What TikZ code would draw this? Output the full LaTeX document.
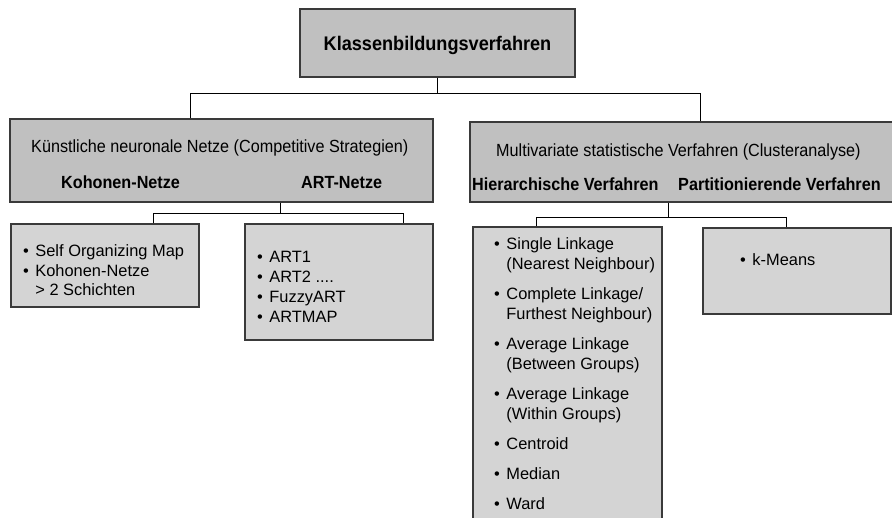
\documentclass[tikz,border=0pt]{standalone}
\usepackage{fontspec}
\setmainfont{Liberation Sans}
\newfontfamily\hdfont[FakeStretch=0.92]{Liberation Sans}
\definecolor{hdfill}{HTML}{C0C0C0}
\definecolor{lsfill}{HTML}{D4D4D4}
\definecolor{bordercol}{HTML}{3A3A3A}
\tikzset{
  boxbase/.style={draw=bordercol, line width=1.2pt, rectangle, inner sep=0pt},
  hdbox/.style={boxbase, fill=hdfill},
  lsbox/.style={boxbase, fill=lsfill},
  link/.style={draw=black, line width=0.9pt},
  hdtext/.style={inner sep=0pt, anchor=base west, font=\hdfont\fontsize{17.6}{20}\selectfont},
  hdbold/.style={inner sep=0pt, anchor=base west, font=\hdfont\bfseries\fontsize{17.6}{20}\selectfont},
  listtext/.style={inner sep=0pt, anchor=base west, align=left, font=\fontsize{16.4}{20}\selectfont}
}
\newcommand{\bl}{\textbullet}
\begin{document}
\begin{tikzpicture}[x=1pt,y=-1pt]
\useasboundingbox (0,0) rectangle (892,518);

% boxes
\node[hdbox, minimum width=275pt, minimum height=68pt] (top) at (437.5,43) {};
\node[hdbox, minimum width=423pt, minimum height=83pt] (lbox) at (221.5,160.5) {};
\node[hdbox, minimum width=430pt, minimum height=80pt] (rbox) at (685,162) {};
\node[lsbox, minimum width=188pt, minimum height=83pt] (self) at (105,265.5) {};
\node[lsbox, minimum width=188pt, minimum height=116pt] (art) at (339,282) {};
\node[lsbox, minimum width=189pt, minimum height=303pt] (hier) at (567.5,378.5) {};
\node[lsbox, minimum width=188pt, minimum height=86pt] (kmeans) at (797,271) {};

% texts
\node[inner sep=0pt, anchor=base, font=\hdfont\bfseries\fontsize{19.7}{22}\selectfont] (ttl) at (437.5,51) {Klassenbildungsverfahren};
\node[hdtext] (lt) at (31,153) {Künstliche neuronale Netze (Competitive Strategien)};
\node[hdbold] (lk) at (61,189) {Kohonen-Netze};
\node[hdbold] (la) at (301,189) {ART-Netze};
\node[hdtext] (rt) at (496,157) {Multivariate statistische Verfahren (Clusteranalyse)};
\node[hdbold] (rh) at (472,191) {Hierarchische Verfahren};
\node[hdbold] (rp) at (678,191) {Partitionierende Verfahren};

\node[listtext] (selft) at (23,257) {\begin{tabular}[t]{@{}l@{\hspace{6.5pt}}l@{}}
\bl & Self Organizing Map\\[-0.8pt]
\bl & Kohonen-Netze\\[-0.8pt]
 & > 2 Schichten
\end{tabular}};
\node[listtext] (artt) at (257,263) {\begin{tabular}[t]{@{}l@{\hspace{6.5pt}}l@{}}
\bl & ART1\\
\bl & ART2 ....\\
\bl & FuzzyART\\
\bl & ARTMAP
\end{tabular}};
\node[listtext] (hiert) at (494,250) {\begin{tabular}[t]{@{}l@{\hspace{6.5pt}}l@{}}
\bl & Single Linkage\\
 & (Nearest Neighbour)\\[10pt]
\bl & Complete Linkage/\\
 & Furthest Neighbour)\\[10pt]
\bl & Average Linkage\\
 & (Between Groups)\\[10pt]
\bl & Average Linkage\\
 & (Within Groups)\\[10pt]
\bl & Centroid\\[10pt]
\bl & Median\\[10pt]
\bl & Ward
\end{tabular}};
\node[listtext] (kmt) at (740,266) {\begin{tabular}[t]{@{}l@{\hspace{6.5pt}}l@{}}
\bl & k-Means
\end{tabular}};

% connectors
\coordinate (j1) at (190,93);
\coordinate (j2) at (700,93);
\draw[link] (top.south) -- (top.south |- j1);
\draw[link] (lbox.north -| j1) -- (j1) -- (j2) -- (rbox.north -| j2);

\coordinate (l0) at (280,213);
\coordinate (l1) at (153,213);
\coordinate (l2) at (403,213);
\draw[link] (lbox.south -| l0) -- (l0);
\draw[link] (self.north -| l1) -- (l1) -- (l2) -- (art.north -| l2);

\coordinate (r0) at (668,217);
\coordinate (r1) at (536,217);
\coordinate (r2) at (786,217);
\draw[link] (rbox.south -| r0) -- (r0);
\draw[link] (hier.north -| r1) -- (r1) -- (r2) -- (kmeans.north -| r2);
\end{tikzpicture}
\end{document}
